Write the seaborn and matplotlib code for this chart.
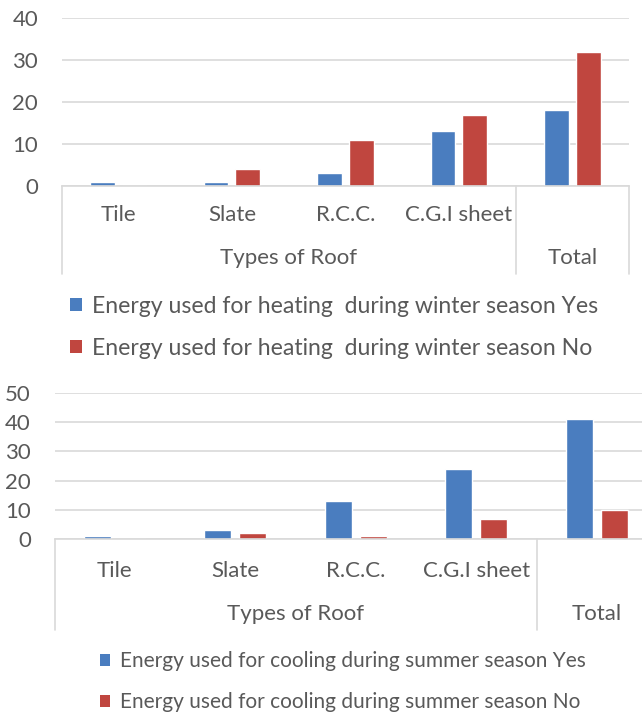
import matplotlib
matplotlib.use("Agg")
import matplotlib.pyplot as plt
import matplotlib.transforms as mtransforms
from matplotlib.patches import Patch
import seaborn as sns
import pandas as pd

# ---------------- data ----------------
roof_types = ["Tile", "Slate", "R.C.C.", "C.G.I sheet"]
total_label = "Total"
categories = roof_types + [total_label]

heating_yes = [1, 1, 3, 13, 18]
heating_no = [0, 4, 11, 17, 32]
cooling_yes = [1, 3, 13, 24, 41]
cooling_no = [0, 2, 1, 7, 10]

heating_series = ["Energy used for heating  during winter season Yes",
                  "Energy used for heating  during winter season No"]
cooling_series = ["Energy used for cooling during summer season Yes",
                  "Energy used for cooling during summer season No"]

group_label = "Types of Roof"
heating_ticks = [0, 10, 20, 30, 40]
cooling_ticks = [0, 10, 20, 30, 40, 50]

# ---------------- style ----------------
sns.set_theme(style="white")
plt.rcParams["font.family"] = ["Lato", "DejaVu Sans"]
TEXT = "#595959"
GRID = "#D9D9D9"
BLUE = "#4A7DBF"
RED = "#C0463F"
FS = 16

W, H = 642, 719
fig = plt.figure(figsize=(W / 100, H / 100), dpi=100)


def fy(px):
    return 1 - px / H


def draw(ax, yes, no, series, ticks, width, gap, cat_y, grp_y, line_bottom,
         leg_x, leg_y, leg_fs):
    df = pd.DataFrame({
        "cat": categories * 2,
        "value": yes + no,
        "series": [series[0]] * len(categories) + [series[1]] * len(categories),
    })
    sns.barplot(data=df, x="cat", y="value", hue="series", order=categories,
                hue_order=series, palette=[BLUE, RED], width=width, gap=gap,
                saturation=1, ax=ax, legend=False)
    ax.set_ylim(ticks[0], ticks[-1])
    ax.set_yticks(ticks)
    ax.set_xlim(-0.5, len(categories) - 0.5)
    ax.yaxis.grid(True, color=GRID, linewidth=1.2)
    ax.set_axisbelow(True)
    for s in ["top", "right", "left"]:
        ax.spines[s].set_visible(False)
    ax.spines["bottom"].set_color(GRID)
    ax.spines["bottom"].set_linewidth(1.2)
    ax.tick_params(axis="y", length=0, labelsize=FS, labelcolor=TEXT, pad=17)
    ax.tick_params(axis="x", length=0)
    ax.set_xticks(range(len(categories)))
    ax.set_xticklabels([])
    ax.set_xlabel("")
    ax.set_ylabel("")

    trans = mtransforms.blended_transform_factory(ax.transData, fig.transFigure)
    for i, c in enumerate(roof_types):
        ax.text(i, fy(cat_y), c, transform=trans, ha="center", va="center",
                fontsize=FS, color=TEXT)
    ax.text((len(roof_types) - 1) / 2, fy(grp_y), group_label, transform=trans,
            ha="center", va="center", fontsize=FS, color=TEXT)
    ax.text(len(categories) - 1, fy(grp_y), total_label, transform=trans,
            ha="center", va="center", fontsize=FS, color=TEXT)
    ybot = ax.transAxes.inverted().transform(
        fig.transFigure.transform((0, fy(line_bottom))))[1]
    trans2 = mtransforms.blended_transform_factory(ax.transData, ax.transAxes)
    for xv in [-0.5, len(roof_types) - 0.5, len(categories) - 0.5]:
        ax.plot([xv, xv], [0, ybot], color=GRID, linewidth=1.2,
                transform=trans2, clip_on=False)

    handles = [Patch(facecolor=BLUE, edgecolor="none"),
               Patch(facecolor=RED, edgecolor="none")]
    fig.legend(handles, series, loc="upper left",
               bbox_to_anchor=(leg_x / W, fy(leg_y)), frameon=False,
               fontsize=leg_fs, labelcolor=TEXT, handlelength=0.5,
               handleheight=0.5, handletextpad=0.45,
               labelspacing=0.95 * 16 / leg_fs,
               borderpad=0, borderaxespad=0)


ax1 = fig.add_axes([61.75 / W, fy(186), (629 - 61.75) / W, 168 / H])
draw(ax1, heating_yes, heating_no, heating_series, heating_ticks,
     width=0.56, gap=0.22, cat_y=215, grp_y=258, line_bottom=274,
     leg_x=70, leg_y=296, leg_fs=16.6)

ax2 = fig.add_axes([54.5 / W, fy(539), 602.5 / W, 146 / H])
draw(ax2, cooling_yes, cooling_no, cooling_series, cooling_ticks,
     width=0.58, gap=0.23, cat_y=571, grp_y=614, line_bottom=630,
     leg_x=100, leg_y=651, leg_fs=15)

fig.savefig("out.png", dpi=100, facecolor="white")
